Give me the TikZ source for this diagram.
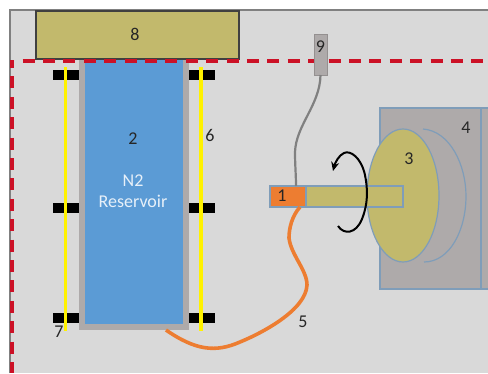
\documentclass[tikz,border=0pt]{standalone}
\usepackage{fontspec}
\setmainfont{Carlito}
\usetikzlibrary{shapes.geometric,arrows.meta}
\definecolor{chamber}{HTML}{D9D9D9}
\definecolor{olive}{HTML}{C2B96C}
\definecolor{steel}{HTML}{7F9DB9}
\definecolor{tankgray}{HTML}{AEAAAA}
\definecolor{nblue}{HTML}{5B9BD5}
\definecolor{hose}{HTML}{ED7D31}
\definecolor{limit}{HTML}{CC1126}
\tikzset{
  part/.style={draw=steel,line width=1.2pt,inner sep=0pt,outer sep=0pt},
  clamp/.style={fill=black,inner sep=0pt,outer sep=0pt,minimum width=26pt,minimum height=10pt},
  rod/.style={yellow,line width=3.6pt},
  limitline/.style={limit,line width=3.4pt,dash pattern=on 12pt off 8.4pt},
  tag/.style={text=black!85,font=\fontsize{18}{21}\selectfont,inner sep=0pt}
}
\begin{document}
\begin{tikzpicture}[x=1pt,y=-1pt]
  \useasboundingbox (0,0) rectangle (488,373);
  \fill[chamber] (10,10) rectangle (488,373);
  \draw[gray,line width=1.1pt] (10,373) -- (10,10) -- (488,10);
  \node[part,fill=tankgray,minimum width=101pt,minimum height=181pt] (motor) at (430.5,198.5) {};
  \node[part,fill=tankgray,minimum width=12pt,minimum height=181pt,anchor=west] (mount) at (motor.east) {};
  \coordinate (rimtop) at (423,129);
  \coordinate (rimbot) at (424,262);
  \draw[steel,line width=1.2pt] (rimtop) .. controls (450,131) and (466,165) .. (466,196) .. controls (466,230) and (450,262) .. (rimbot);
  \node[part,fill=olive,ellipse,minimum width=72pt,minimum height=133pt] (disc) at (403,195.5) {};
  \node[part,fill=olive,minimum width=97pt,minimum height=21pt,anchor=west] (shaft) at (306,196.5) {};
  \node[part,fill=hose,minimum width=36pt,minimum height=21pt,anchor=east] (heater) at (shaft.west) {};
  \node[draw=black!75,fill=olive,line width=1.2pt,inner sep=0pt,outer sep=0pt,minimum width=203pt,minimum height=48pt] (cap) at (137.5,35) {};
  \node[clamp] (clampa) at (66,74.5) {};
  \node[clamp] (clampb) at (202,74.5) {};
  \node[clamp] (clampc) at (66,207.5) {};
  \node[clamp] (clampd) at (202,207.5) {};
  \node[clamp] (clampe) at (66,317.5) {};
  \node[clamp] (clampf) at (202,317.5) {};
  \node[fill=tankgray,inner sep=0pt,outer sep=0pt,minimum width=110pt,minimum height=270pt] (tank) at (134,195) {};
  \node[fill=nblue,inner sep=0pt,outer sep=0pt,minimum width=98pt,minimum height=264pt] (reservoir) at (134,192) {};
  \coordinate (rodatop) at (65.5,67);
  \coordinate (rodabot) at (65.5,331);
  \coordinate (rodbtop) at (201,67);
  \coordinate (rodbbot) at (201,331);
  \draw[rod] (rodatop) -- (rodabot);
  \draw[rod] (rodbtop) -- (rodbbot);
  \coordinate (corner) at (12,60);
  \coordinate (lineleft) at (22.5,61);
  \coordinate (lineright) at (488,61);
  \coordinate (linebot) at (12,373);
  \draw[limitline] (lineleft) -- (lineright);
  \draw[limitline,dash phase=4pt] (corner) -- (linebot);
  \node[draw=tankgray!85!black,fill=tankgray,line width=1pt,inner sep=0pt,outer sep=0pt,minimum width=13pt,minimum height=41pt] (sensor) at (320.5,54.5) {};
  \coordinate (leadend) at (296,186);
  \draw[gray,line width=2.2pt] (sensor.south) .. controls (320,105) and (296,125) .. (295,152) .. controls (295,165) and (296,175) .. (leadend);
  \coordinate (hosetop) at (300,207);
  \coordinate (hosebot) at (166,330);
  \draw[hose,line width=3.6pt] (hosetop) .. controls (292,216) and (289,228) .. (289,238) .. controls (291,255) and (307,270) .. (307,285) .. controls (306,310) and (262,333) .. (240,342) .. controls (215,353) and (195,350) .. (hosebot);
  \coordinate (turnstart) at (338,226);
  \coordinate (turnend) at (333,171);
  \draw[-{Stealth[length=9pt,width=8pt]},black,line width=2pt] (turnstart) .. controls (344,235) and (356,234) .. (362,219) .. controls (368,204) and (368,190) .. (365,175) .. controls (361,157) and (350,150) .. (344,153) .. controls (339,155) and (335,163) .. (turnend);
  \node[tag] (labeleight) at (135,34) {8};
  \node[tag] (labeltwo) at (133,139) {2};
  \node[tag,text=white!85!nblue,align=center] (labelres) at (133,191) {N2\\Reservoir};
  \node[tag] (labelsix) at (210,135) {6};
  \node[tag] (labelseven) at (59,332) {7};
  \node[tag] (labelnine) at (320.5,47) {9};
  \node[tag] (labelfour) at (466,128) {4};
  \node[tag] (labelthree) at (409,159) {3};
  \node[tag] (labelone) at (282,196) {1};
  \node[tag] (labelfive) at (303,322) {5};
\end{tikzpicture}
\end{document}
